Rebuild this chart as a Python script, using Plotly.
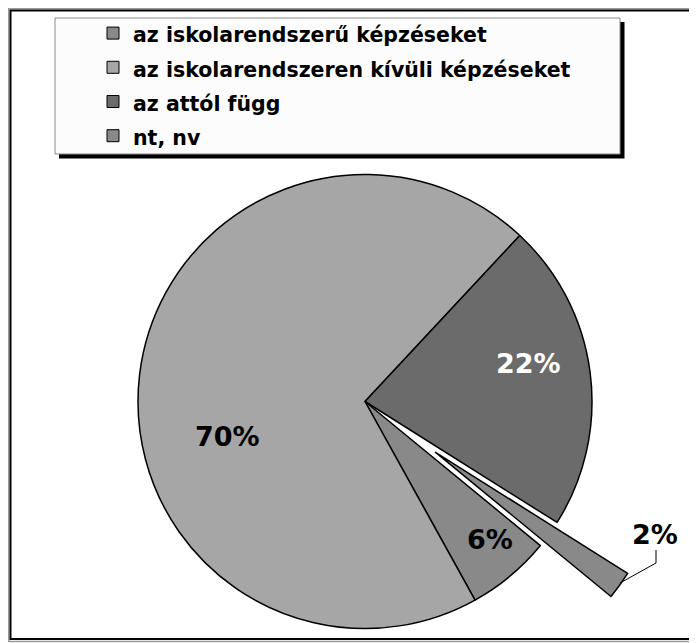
import math
import plotly.graph_objects as go

# data
labels = ["az iskolarendszerű képzéseket", "az iskolarendszeren kívüli képzéseket",
          "az attól függ", "nt, nv"]
values = [6, 70, 22, 2]
colors = ["#898989", "#a6a6a6", "#6b6b6b", "#898989"]
pulled = 3  # "nt, nv" is the exploded slice

W, H = 697, 680
OFF = 8  # page body margin
FONT = "DejaVu Sans"


def fx(x):
    return (x - OFF) / W


def fy(y):
    return 1 - (y - OFF) / H


# pie geometry in screen pixels
cx, cy, r = 365, 401.5, 227
rot = 129.4
shift = 87

total = sum(values)
deg = [v / total * 360 for v in values]
start_pulled = (rot + sum(deg[:pulled])) % 360
mid = math.radians(start_pulled + deg[pulled] / 2)
pcx = cx + shift * math.sin(mid)
pcy = cy - shift * math.cos(mid)

fig = go.Figure()

# legend carrier (tiny, hidden under the main pie)
fig.add_trace(go.Pie(
    labels=[f"<span style='font-size:20.5px'>{l}</span>" for l in labels],
    values=values, sort=False, direction="clockwise", rotation=rot,
    marker=dict(colors=colors, line=dict(color="black", width=1)),
    textinfo="none", hoverinfo="skip",
    domain=dict(x=[fx(250), fx(250.1)], y=[fy(400.1), fy(400)]),
))

# main pie, exploded slice left empty
fig.add_trace(go.Pie(
    labels=labels, values=values, sort=False, direction="clockwise", rotation=rot,
    marker=dict(colors=[c if i != pulled else "rgba(0,0,0,0)" for i, c in enumerate(colors)],
                line=dict(color="black", width=[1.5 if i != pulled else 0 for i in range(4)])),
    textinfo="none", showlegend=False,
    domain=dict(x=[fx(cx - r), fx(cx + r)], y=[fy(cy + r), fy(cy - r)]),
))

# exploded slice
fig.add_trace(go.Pie(
    labels=[labels[pulled], "rest"], values=[values[pulled], total - values[pulled]],
    sort=False, direction="clockwise", rotation=start_pulled,
    marker=dict(colors=[colors[pulled], "rgba(0,0,0,0)"],
                line=dict(color="black", width=[1.5, 0])),
    textinfo="none", showlegend=False,
    domain=dict(x=[fx(pcx - r), fx(pcx + r)], y=[fy(pcy + r), fy(pcy - r)]),
))

# percentage labels
label_pos = [(489.5, 539), (227, 436), (528.5, 363), (655, 534)]
label_col = ["black", "black", "white", "black"]
for v, (lx, ly), c in zip(values, label_pos, label_col):
    fig.add_annotation(x=fx(lx), y=fy(ly), xref="paper", yref="paper",
                       xanchor="center", yanchor="middle",
                       text=f"{v}%", showarrow=False,
                       font=dict(family=FONT, size=27, weight="bold", color=c))

shapes = [
    # outer frame
    dict(type="rect", x0=fx(8.75), x1=fx(720), y0=fy(8.75), y1=fy(641.5),
         line=dict(color="#9a9a9a", width=1.5)),
    dict(type="rect", x0=fx(10.5), x1=fx(718), y0=fy(10.5), y1=fy(639),
         line=dict(color="black", width=2)),
    # legend box with shadow
    dict(type="rect", x0=fx(59), x1=fx(624.5), y0=fy(22), y1=fy(158.5),
         fillcolor="black", line=dict(width=0)),
    dict(type="rect", x0=fx(55), x1=fx(620), y0=fy(18), y1=fy(154),
         fillcolor="#fcfcfc", line=dict(color="#8c8c8c", width=1)),
    # leader line of the 2% label
    dict(type="path", path=f"M {fx(656)} {fy(550)} L {fx(656)} {fy(563)} L {fx(620)} {fy(583)}",
         xref="paper", yref="paper", line=dict(color="black", width=1)),
]
fig.update_layout(
    width=W, height=H,
    margin=dict(l=0, r=0, t=0, b=0),
    paper_bgcolor="white", plot_bgcolor="white",
    shapes=shapes,
    legend=dict(x=fx(93), y=fy(11), xanchor="left", yanchor="top",
                bgcolor="rgba(0,0,0,0)", borderwidth=0,
                font=dict(family=FONT, size=24, weight="bold", color="black")),
)

fig.write_html("out.html")
